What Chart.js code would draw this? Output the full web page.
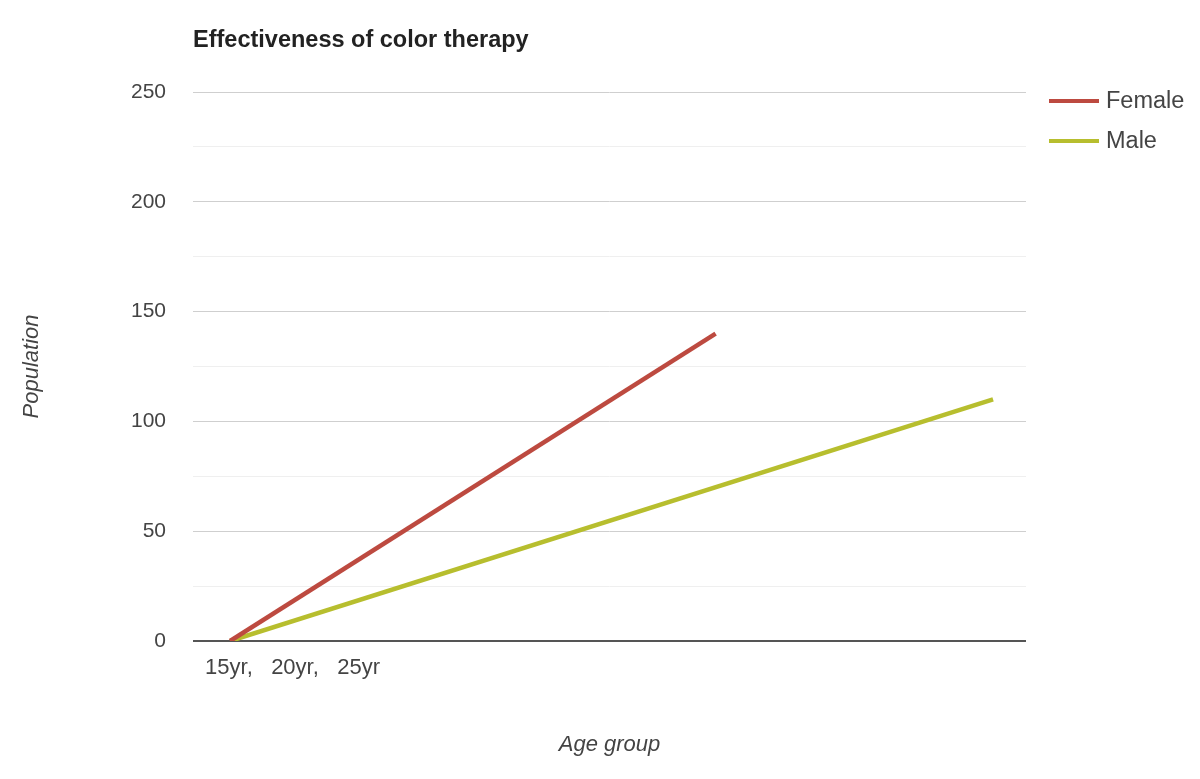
<!DOCTYPE html>
<html>
<head>
<meta charset="utf-8">
<script src="https://cdn.jsdelivr.net/npm/chart.js@4/dist/chart.umd.min.js"></script>
<style>
  html, body { margin: 0; padding: 0; background: #fff; }
  #wrap { width: 1200px; height: 779px; position: relative; }
</style>
</head>
<body>
<div id="wrap"><canvas id="chart"></canvas></div>
<script>
const chartTitle = 'Effectiveness of color therapy';
const seriesNames = ['Female', 'Male'];
const femaleX = [15, 43];
const femaleY = [0, 140];
const maleX = [15, 59];
const maleY = [0, 110];
const xTickLabel = '15yr,   20yr,   25yr';
const yTicks = [0, 50, 100, 150, 200, 250];

const FONT = 'Arial, "Liberation Sans", sans-serif';
const colors = ['#bd4a40', '#b7be2e'];

const toPoints = (xs, ys) => xs.map((x, i) => ({ x: x, y: ys[i] }));

// Title + legend drawn next to the chart area
const decorPlugin = {
    id: 'decor',
    afterDraw(chart) {
        const ctx = chart.ctx;
        const area = chart.chartArea;
        ctx.save();
        ctx.fillStyle = '#222';
        ctx.font = 'bold 23.5px ' + FONT;
        ctx.textBaseline = 'middle';
        ctx.textAlign = 'left';
        ctx.fillText(chartTitle, area.left, 41);

        chart.data.datasets.forEach((ds, i) => {
            const y = 101 + i * 40;
            const x0 = area.right + 23;
            ctx.strokeStyle = ds.borderColor;
            ctx.lineWidth = 4;
            ctx.beginPath();
            ctx.moveTo(x0, y);
            ctx.lineTo(x0 + 50, y);
            ctx.stroke();
            ctx.fillStyle = '#444';
            ctx.font = '23.5px ' + FONT;
            ctx.fillText(ds.label, x0 + 57, y + 1);
        });
        ctx.restore();
    }
};

const ctx = document.getElementById('chart').getContext('2d');

new Chart(ctx, {
    type: 'line',
    data: {
        datasets: [
            {
                label: seriesNames[0],
                data: toPoints(femaleX, femaleY),
                borderColor: colors[0],
                backgroundColor: colors[0],
                borderWidth: 4.5,
                pointRadius: 0,
                tension: 0
            },
            {
                label: seriesNames[1],
                data: toPoints(maleX, maleY),
                borderColor: colors[1],
                backgroundColor: colors[1],
                borderWidth: 4.5,
                pointRadius: 0,
                tension: 0
            }
        ]
    },
    options: {
        responsive: true,
        maintainAspectRatio: false,
        animation: false,
        layout: { padding: { top: 92, right: 174, bottom: 15, left: 15 } },
        scales: {
            x: {
                type: 'linear',
                min: 12.86,
                max: 60.9,
                afterBuildTicks: (axis) => { axis.ticks = [{ value: femaleX[0] }]; },
                afterFit: (axis) => { axis.height = 123; },
                ticks: {
                    align: 'start',
                    labelOffset: -25,
                    padding: 6,
                    color: '#444',
                    font: { family: FONT, size: 22 },
                    callback: () => xTickLabel
                },
                grid: { display: false },
                border: { display: false },
                title: {
                    display: true,
                    text: 'Age group',
                    color: '#444',
                    font: { family: FONT, size: 22, style: 'italic' },
                    padding: { top: 0, bottom: 6 }
                }
            },
            y: {
                min: 0,
                max: 250,
                afterBuildTicks: (axis) => {
                    const t = [];
                    for (let v = 0; v <= 250; v += 25) t.push({ value: v });
                    axis.ticks = t;
                },
                afterFit: (axis) => { axis.width = 178; },
                ticks: {
                    padding: 27,
                    color: '#444',
                    font: { family: FONT, size: 21 },
                    callback: (v) => yTicks.includes(v) ? v : ''
                },
                grid: {
                    drawTicks: false,
                    color: (c) => c.tick.value === 0 ? '#555' : (c.tick.value % 50 === 0 ? '#cfcfcf' : '#efefef'),
                    lineWidth: (c) => c.tick.value === 0 ? 2 : 1
                },
                border: { display: false },
                title: {
                    display: true,
                    text: 'Population',
                    color: '#444',
                    font: { family: FONT, size: 22, style: 'italic' },
                    padding: { top: 4, bottom: 0 }
                }
            }
        },
        plugins: {
            legend: { display: false },
            tooltip: { enabled: false }
        }
    },
    plugins: [decorPlugin]
});
</script>
</body>
</html>
